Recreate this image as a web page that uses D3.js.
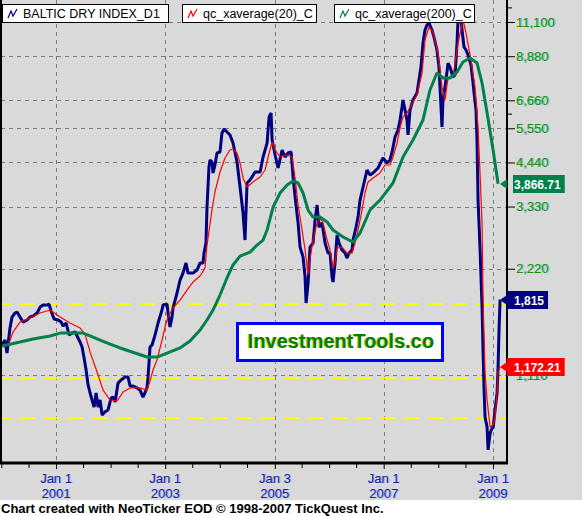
<!DOCTYPE html>
<html><head><meta charset="utf-8">
<script src="https://cdn.jsdelivr.net/npm/d3@7"></script>
<style>
html,body{margin:0;padding:0;background:#fff;}
svg{display:block;}
text{font-family:"Liberation Sans",Arial,sans-serif;}
</style></head><body>
<svg id="chart" width="582" height="516"></svg>
<script>
// ---------- DATA (dates as decimal years) ----------
const bdiYears=[2000.013,2000.068,2000.104,2000.159,2000.196,2000.251,2000.287,2000.342,2000.397,2000.471,
2000.525,2000.580,2000.654,2000.709,2000.763,2000.837,2000.873,2000.910,2000.965,2001.038,
2001.093,2001.130,2001.185,2001.239,2001.294,2001.349,2001.404,2001.441,2001.477,2001.514,
2001.551,2001.587,2001.624,2001.660,2001.697,2001.734,2001.770,2001.807,2001.844,2001.898,
2001.953,2002.008,2002.045,2002.082,2002.136,2002.191,2002.265,2002.320,2002.356,2002.411,
2002.484,2002.539,2002.594,2002.667,2002.686,2002.722,2002.759,2002.814,2002.869,2002.942,
2002.960,2003.034,2003.052,2003.088,2003.125,2003.143,2003.217,2003.272,2003.326,2003.381,
2003.418,2003.509,2003.583,2003.638,2003.693,2003.711,2003.747,2003.766,2003.802,2003.821,
2003.857,2003.876,2003.912,2003.949,2004.004,2004.040,2004.077,2004.132,2004.187,2004.242,
2004.315,2004.370,2004.425,2004.461,2004.498,2004.553,2004.645,2004.736,2004.791,2004.864,
2004.901,2004.937,2004.956,2005.011,2005.066,2005.139,2005.194,2005.249,2005.304,2005.340,
2005.377,2005.432,2005.468,2005.523,2005.560,2005.578,2005.615,2005.651,2005.706,2005.743,
2005.780,2005.816,2005.871,2005.926,2005.981,2006.018,2006.054,2006.072,2006.109,2006.146,
2006.182,2006.237,2006.292,2006.329,2006.365,2006.420,2006.439,2006.494,2006.530,2006.567,
2006.622,2006.695,2006.750,2006.805,2006.896,2006.988,2007.061,2007.116,2007.153,2007.208,
2007.262,2007.299,2007.336,2007.354,2007.391,2007.427,2007.446,2007.482,2007.537,2007.610,
2007.647,2007.683,2007.720,2007.757,2007.793,2007.830,2007.885,2007.921,2007.976,2008.013,
2008.050,2008.068,2008.086,2008.123,2008.159,2008.178,2008.214,2008.269,2008.306,2008.343,
2008.361,2008.416,2008.434,2008.471,2008.507,2008.544,2008.599,2008.636,2008.654,2008.690,
2008.709,2008.727,2008.764,2008.800,2008.819,2008.837,2008.855,2008.892,2008.910,2008.947,
2008.983,2009.002,2009.038,2009.075,2009.093,2009.112,2009.130];
const bdiValues=[1350,1394,1281,1508,1620,1663,1674,1620,1568,1589,
1620,1630,1663,1729,1752,1752,1763,1685,1599,1589,
1568,1528,1558,1441,1459,1469,1413,1376,1332,1240,
1147,1040,987,943,900,987,900,943,855,873,
884,955,961,931,1053,1074,1096,1096,1033,1033,
1020,1006,961,1020,1096,1332,1350,1441,1558,1696,
1752,1763,1663,1518,1620,1718,1895,2062,2158,2304,
2158,2158,2201,2304,2304,2459,2625,3320,4311,4512,
4454,4145,4368,4724,4755,5381,5523,5416,5312,5040,
4454,3783,3193,2677,3884,3961,4172,4172,4602,5040,
5973,6131,5140,4662,4283,4817,4602,4724,4755,4039,
3544,2992,2557,2396,2103,1775,2022,2557,2625,3051,
3364,2914,2992,2625,2459,2459,2103,2035,2304,2766,
2625,2508,2459,2380,2459,2508,2677,2914,3110,3475,
3783,4227,4092,4145,4283,4572,4425,4512,4755,5243,
5487,5857,6375,6673,6252,5857,5312,6252,6673,6985,
7603,8274,9679,10535,10885,11026,10535,10063,9247,8274,
6375,5596,6673,7265,8010,8492,8274,7753,7855,9679,
11244,11393,10535,9428,9247,8950,8383,7456,6985,6252,
5040,3475,2508,1729,1281,1006,844,791,681,760,
785,785,884,987,1169,1518,1815];

const ema20Years=[2000.123,2000.214,2000.342,2000.525,2000.709,2000.892,2001.075,2001.258,2001.441,2001.532,
2001.624,2001.752,2001.862,2001.990,2002.118,2002.228,2002.356,2002.539,2002.667,2002.722,
2002.777,2002.850,2002.942,2002.997,2003.052,2003.143,2003.272,2003.400,2003.509,2003.638,
2003.729,2003.766,2003.857,2003.912,2004.004,2004.095,2004.187,2004.242,2004.315,2004.370,
2004.425,2004.498,2004.608,2004.736,2004.828,2004.901,2004.956,2005.011,2005.102,2005.230,
2005.322,2005.377,2005.432,2005.505,2005.560,2005.615,2005.651,2005.706,2005.780,2005.834,
2005.889,2005.963,2006.018,2006.072,2006.109,2006.146,2006.237,2006.329,2006.420,2006.475,
2006.530,2006.603,2006.658,2006.713,2006.805,2006.933,2007.024,2007.116,2007.171,2007.244,
2007.299,2007.354,2007.427,2007.519,2007.610,2007.702,2007.757,2007.830,2007.903,2007.995,
2008.068,2008.123,2008.178,2008.269,2008.361,2008.452,2008.507,2008.581,2008.672,2008.727,
2008.764,2008.800,2008.819,2008.855,2008.892,2008.947,2009.002,2009.038,2009.075,2009.093,2009.130];
const ema20Values=[1341,1469,1568,1609,1663,1696,1620,1558,1508,1450,
1289,1132,1006,943,937,993,1020,1020,1006,1067,
1147,1224,1394,1518,1620,1718,1810,1932,2035,2117,
2231,2591,3256,3662,4172,4572,4817,4848,4724,4425,
4013,3783,3910,4039,4227,4724,5073,4817,4602,4662,
4602,4013,3364,2858,2508,2131,2380,2677,2992,3090,
2992,2677,2508,2231,2304,2541,2557,2459,2459,2625,
2858,3256,3638,3910,4013,4145,4368,4368,4602,5040,
5559,5973,6131,6501,6895,7958,9870,10744,10398,9068,
7265,6673,7703,7753,9679,11244,10331,8950,7265,5596,
4092,2992,1810,1125,943,791,801,844,987,1132,1172.21];

const ema200Years=[2000.013,2000.342,2000.580,2000.892,2001.075,2001.496,2001.624,2001.807,2001.990,2002.173,
2002.448,2002.667,2002.850,2003.034,2003.272,2003.455,2003.638,2003.766,2003.876,2004.004,
2004.132,2004.242,2004.370,2004.553,2004.681,2004.791,2004.864,2004.974,2005.102,2005.230,
2005.340,2005.432,2005.523,2005.615,2005.706,2005.834,2005.963,2006.072,2006.256,2006.439,
2006.567,2006.750,2006.933,2007.171,2007.354,2007.537,2007.720,2007.848,2007.976,2008.086,
2008.214,2008.343,2008.452,2008.581,2008.709,2008.800,2008.892,2009.002,2009.093];
const ema200Values=[1341,1376,1404,1432,1459,1459,1432,1394,1358,1324,
1281,1248,1248,1281,1324,1385,1488,1589,1696,1870,
2090,2275,2411,2475,2591,2677,2858,3320,3638,3833,
3935,3884,3638,3256,3110,3110,3011,2858,2730,2642,
2803,3256,3475,3884,4602,5140,5857,7123,7958,7703,
7703,8010,8548,8777,8492,7456,6131,4817,3866.71];

const seriesNames=["BALTIC DRY INDEX_D1","qc_xaverage(20)_C","qc_xaverage(200)_C"];
const yTickValues=[1110,2220,3330,4440,5550,6660,8880,11100];
const yMinorTickValues=[6105,7215,12210];
const xTickDates=["2001-01-01","2003-01-01","2005-01-03","2007-01-01","2009-01-01"];
const xTickLine1=["Jan 1","Jan 1","Jan 3","Jan 1","Jan 1"];
const xTickLine2=["2001","2003","2005","2007","2009"];
const xMinorDates=["2000-01-01","2000-07-01","2001-07-01","2002-01-01","2002-07-01","2003-07-01","2004-01-01","2004-07-01","2005-07-01","2006-01-01","2006-07-01","2007-07-01","2008-01-01","2008-07-01"];
const supportLevels=[1765,1088,838];
const watermarkText="InvestmentTools.co";
const footerText="Chart created with NeoTicker EOD \u00A9 1998-2007 TickQuest Inc.";

// ---------- HELPERS ----------
function decToDate(d){const yr=Math.floor(d);const s=Date.UTC(yr,0,1),e=Date.UTC(yr+1,0,1);return new Date(s+(d-yr)*(e-s));}
const parseD=d3.utcParse("%Y-%m-%d");
function build(years,vals){return years.map((t,i)=>({date:decToDate(t),v:vals[i]}));}
const bdi=build(bdiYears,bdiValues), ema20=build(ema20Years,ema20Values), ema200=build(ema200Years,ema200Values);

const W=582,H=516;
const plotL=1,plotR=507,plotT=0,plotB=462;
const svg=d3.select("#chart");

const x=d3.scaleUtc().domain([new Date(Date.UTC(2000,0,1)),new Date(Date.UTC(2009,0,1))]).range([1.3,493]);
const y=d3.scaleLog().domain([11100,1110]).range([22,375]);

const colBlue="#000080",colRed="#ff0000",colGreen="#00804a";

// backgrounds
svg.append("rect").attr("width",W).attr("height",500).attr("fill","#d9d9d9");
svg.append("rect").attr("y",500).attr("width",W).attr("height",16).attr("fill","#ffffff");

svg.append("defs").append("clipPath").attr("id","clip").append("rect")
  .attr("x",plotL).attr("y",plotT).attr("width",plotR-plotL).attr("height",plotB-plotT);

// grid
const grid=svg.append("g").attr("stroke","#7a7a7a").attr("stroke-width",1).attr("stroke-dasharray","4,4");
grid.selectAll("line.h").data(yTickValues).join("line").attr("class","h")
  .attr("x1",plotL).attr("x2",plotR).attr("y1",d=>Math.round(y(d))+0.5).attr("y2",d=>Math.round(y(d))+0.5);
grid.selectAll("line.v").data(xTickDates).join("line").attr("class","v")
  .attr("y1",plotT).attr("y2",plotB).attr("x1",d=>Math.round(x(parseD(d)))+0.5).attr("x2",d=>Math.round(x(parseD(d)))+0.5);

// support lines
svg.append("g").selectAll("line").data(supportLevels).join("line")
  .attr("x1",plotL).attr("x2",plotR).attr("y1",d=>Math.round(y(d))).attr("y2",d=>Math.round(y(d)))
  .attr("stroke","#ffff00").attr("stroke-width",2).attr("stroke-dasharray","15,9").attr("stroke-dashoffset",5);

// series lines
const line=d3.line().x(d=>x(d.date)).y(d=>y(d.v));
const lines=svg.append("g").attr("clip-path","url(#clip)").attr("fill","none").attr("stroke-linejoin","bevel");
lines.append("path").datum(bdi).attr("d",line).attr("stroke",colBlue).attr("stroke-width",3);
lines.append("path").datum(ema20).attr("d",line).attr("stroke",colRed).attr("stroke-width",1.2);
lines.append("path").datum(ema200).attr("d",line).attr("stroke",colGreen).attr("stroke-width",3);

// watermark
const wm=svg.append("g");
wm.append("rect").attr("x",237.5).attr("y",323.5).attr("width",205).attr("height",37)
  .attr("fill","#fff").attr("stroke","#0000ff").attr("stroke-width",3);
wm.append("text").attr("x",340).attr("y",348).attr("text-anchor","middle").attr("font-size",20).attr("font-weight","bold")
  .attr("fill","#c8c800").text(watermarkText);
wm.append("text").attr("x",341).attr("y",348).attr("text-anchor","middle").attr("font-size",20).attr("font-weight","bold")
  .attr("fill","#008000").text(watermarkText);

// borders
svg.append("line").attr("x1",1).attr("x2",1).attr("y1",0).attr("y2",464).attr("stroke","#000").attr("stroke-width",2);
svg.append("line").attr("x1",507).attr("x2",507).attr("y1",0).attr("y2",464).attr("stroke","#000").attr("stroke-width",2);
svg.append("line").attr("x1",0).attr("x2",508).attr("y1",463).attr("y2",463).attr("stroke","#000").attr("stroke-width",3);

// right axis
const yAxis=d3.axisRight(y).tickValues(yTickValues).tickSize(7).tickPadding(1).tickFormat(d3.format(","));
const ga=svg.append("g").attr("transform","translate(508,0)").call(yAxis);
ga.select(".domain").remove();
ga.selectAll(".tick line").attr("stroke","#000");
ga.selectAll(".tick text").attr("font-size",13).attr("font-family","Liberation Sans, Arial, sans-serif")
  .attr("fill","#2e8b00").each(function(){
    const t=d3.select(this);
    t.clone(true);
    t.attr("fill","#40d0d0").attr("dx",1);
  });
const yMinor=d3.axisRight(y).tickValues(yMinorTickValues).tickSize(4).tickFormat("");
const gm=svg.append("g").attr("transform","translate(508,0)").call(yMinor);
gm.select(".domain").remove();
gm.selectAll(".tick line").attr("stroke","#000");

// bottom axis
const xAxis=d3.axisBottom(x).tickValues(xTickDates.map(parseD)).tickSize(5).tickFormat("");
const gx=svg.append("g").attr("transform","translate(0,464)").call(xAxis);
gx.select(".domain").remove(); gx.selectAll(".tick line").attr("stroke","#000");
const xMinor=d3.axisBottom(x).tickValues(xMinorDates.map(parseD)).tickSize(4).tickFormat("");
const gxm=svg.append("g").attr("transform","translate(0,464)").call(xMinor);
gxm.select(".domain").remove(); gxm.selectAll(".tick line").attr("stroke","#000");

const xl=svg.append("g").attr("font-size",13).attr("text-anchor","middle");
xTickDates.forEach((d,i)=>{
  const px=x(parseD(d));
  [[xTickLine1[i],483],[xTickLine2[i],498]].forEach(([s,yy])=>{
    xl.append("text").attr("x",px+1).attr("y",yy).attr("fill","#8fb0ff").text(s);
    xl.append("text").attr("x",px).attr("y",yy).attr("fill","#1e1e9c").text(s);
  });
});

// legend
const legendBoxes=[[2,166],[182,134],[334,140]];
const legendColors=[colBlue,colRed,colGreen];
const lg=svg.append("g");
seriesNames.forEach((name,i)=>{
  const [bx,bw]=legendBoxes[i];
  lg.append("rect").attr("x",bx+0.5).attr("y",4.5).attr("width",bw).attr("height",18)
    .attr("fill","#fff").attr("stroke","#000").attr("stroke-width",1);
  lg.append("path").attr("d",`M${bx+6},18 L${bx+9},11 L${bx+11},16 L${bx+15},9`)
    .attr("fill","none").attr("stroke",legendColors[i]).attr("stroke-width",1.2);
  lg.append("text").attr("x",bx+21).attr("y",18).attr("font-size",12.5).attr("fill","#000").text(name);
});

// last value labels
const lastLabels=[
  {v:ema200Values[ema200Values.length-1],fmt:",.2f",color:colGreen,bx:513},
  {v:bdiValues[bdiValues.length-1],fmt:",",color:colBlue,bx:507},
  {v:ema20Values[ema20Values.length-1],fmt:",.2f",color:colRed,bx:507}
];
const ll=svg.append("g");
lastLabels.forEach(L=>{
  const yv=Math.round(y(L.v));
  const g=ll.append("g");
  g.append("path").attr("d",`M500,${yv} L507,${yv-5} L507,${yv+5} Z`).attr("fill",L.color);
  const rect=g.append("rect").attr("x",L.bx).attr("y",yv-9).attr("height",18).attr("fill",L.color);
  const t=g.append("text").attr("x",514).attr("y",yv+4.5).attr("font-size",12).attr("font-weight","bold")
    .attr("fill","#fff").text(d3.format(L.fmt)(L.v));
  const tw=t.node().getComputedTextLength();
  rect.attr("width",514+tw+4-L.bx);
});

// footer
svg.append("text").attr("x",1).attr("y",513).attr("font-size",13).attr("font-weight","bold").attr("fill","#000").text(footerText);
</script>
</body></html>
